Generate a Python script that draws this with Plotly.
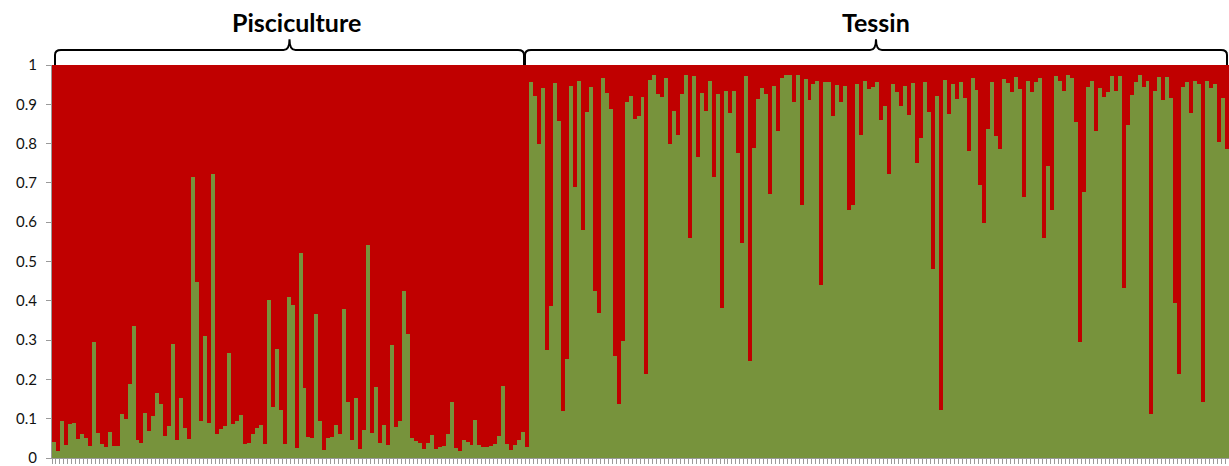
import plotly.graph_objects as go

# Group names
groups = ["Pisciculture", "Tessin"]

# Green (cluster 2) membership per individual, Pisciculture (120 individuals)
green_pisciculture = [
    0.040, 0.019, 0.093, 0.034, 0.086, 0.088, 0.048, 0.062, 0.050, 0.031,
    0.295, 0.063, 0.035, 0.027, 0.066, 0.031, 0.031, 0.111, 0.099, 0.188,
    0.336, 0.046, 0.038, 0.114, 0.069, 0.108, 0.165, 0.138, 0.057, 0.081,
    0.289, 0.046, 0.152, 0.076, 0.048, 0.716, 0.449, 0.095, 0.310, 0.090,
    0.722, 0.062, 0.073, 0.081, 0.267, 0.086, 0.093, 0.109, 0.036, 0.038,
    0.061, 0.076, 0.084, 0.035, 0.403, 0.131, 0.278, 0.122, 0.035, 0.409,
    0.390, 0.025, 0.521, 0.179, 0.054, 0.051, 0.366, 0.095, 0.021, 0.050,
    0.054, 0.083, 0.062, 0.380, 0.143, 0.046, 0.152, 0.024, 0.072, 0.543,
    0.063, 0.181, 0.038, 0.083, 0.034, 0.287, 0.078, 0.093, 0.424, 0.315,
    0.052, 0.042, 0.037, 0.024, 0.038, 0.059, 0.024, 0.027, 0.030, 0.062,
    0.143, 0.025, 0.019, 0.046, 0.040, 0.034, 0.097, 0.034, 0.028, 0.028,
    0.031, 0.036, 0.055, 0.183, 0.036, 0.021, 0.032, 0.045, 0.066, 0.027,
]

# Green membership per individual, Tessin (176 individuals)
green_tessin = [
    0.956, 0.922, 0.800, 0.941, 0.274, 0.386, 0.954, 0.858, 0.120, 0.251,
    0.947, 0.690, 0.959, 0.581, 0.880, 0.943, 0.424, 0.370, 0.966, 0.928,
    0.888, 0.260, 0.138, 0.297, 0.905, 0.922, 0.863, 0.869, 0.918, 0.215,
    0.962, 0.975, 0.927, 0.918, 0.968, 0.799, 0.882, 0.821, 0.926, 0.975,
    0.559, 0.973, 0.766, 0.930, 0.884, 0.960, 0.715, 0.926, 0.382, 0.934,
    0.879, 0.934, 0.775, 0.546, 0.973, 0.246, 0.789, 0.914, 0.942, 0.926,
    0.671, 0.947, 0.831, 0.968, 0.975, 0.975, 0.907, 0.975, 0.645, 0.964,
    0.910, 0.952, 0.960, 0.439, 0.958, 0.958, 0.869, 0.949, 0.907, 0.947,
    0.630, 0.644, 0.952, 0.823, 0.959, 0.938, 0.945, 0.956, 0.861, 0.895,
    0.722, 0.952, 0.931, 0.895, 0.947, 0.873, 0.954, 0.751, 0.813, 0.956,
    0.880, 0.481, 0.920, 0.122, 0.962, 0.876, 0.952, 0.914, 0.956, 0.916,
    0.781, 0.966, 0.937, 0.695, 0.597, 0.837, 0.956, 0.819, 0.786, 0.965,
    0.954, 0.932, 0.969, 0.939, 0.665, 0.959, 0.931, 0.956, 0.966, 0.561,
    0.744, 0.630, 0.973, 0.959, 0.935, 0.975, 0.966, 0.854, 0.294, 0.678,
    0.943, 0.960, 0.833, 0.941, 0.918, 0.931, 0.973, 0.935, 0.973, 0.432,
    0.848, 0.924, 0.956, 0.975, 0.945, 0.960, 0.112, 0.935, 0.970, 0.910,
    0.970, 0.916, 0.394, 0.215, 0.943, 0.956, 0.878, 0.960, 0.952, 0.143,
    0.960, 0.941, 0.952, 0.803, 0.917, 0.786,
]

ytick_vals = [0, 0.1, 0.2, 0.3, 0.4, 0.5, 0.6, 0.7, 0.8, 0.9, 1]
ytick_text = ["0", "0.1", "0.2", "0.3", "0.4", "0.5", "0.6", "0.7", "0.8", "0.9", "1"]

GREEN = "#77933C"
RED = "#C00000"

green = green_pisciculture + green_tessin
red = [1 - g for g in green]
n = len(green)
x = list(range(n))

fig = go.Figure()
fig.add_trace(go.Bar(x=x, y=green, marker=dict(color=GREEN, line=dict(width=0)),
                     hoverinfo="skip", showlegend=False))
fig.add_trace(go.Bar(x=x, y=red, marker=dict(color=RED, line=dict(width=0)),
                     hoverinfo="skip", showlegend=False))

W, H = 1229, 466
ML, MR, MT, MB = 52, 0, 65, 6
plot_w = W - ML - MR
plot_h = H - MT - MB


def px_x(p):  # page pixel -> paper x
    return (p - ML) / plot_w


def px_y(p):  # page pixel -> paper y
    return 1 + (MT - p) / plot_h


def brace(x0, x1):
    r = 6 / plot_w
    yb = px_y(65)
    yv = px_y(55)
    ym = px_y(50)
    yt = px_y(39)
    xm = (x0 + x1) / 2
    return (f"M {x0},{yb} L {x0},{yv} Q {x0},{ym} {x0 + r},{ym} "
            f"L {xm - r},{ym} Q {xm},{ym} {xm},{yt} "
            f"Q {xm},{ym} {xm + r},{ym} L {x1 - r},{ym} "
            f"Q {x1},{ym} {x1},{yv} L {x1},{yb}")


b1 = (px_x(55), px_x(524))
b2 = (px_x(525), px_x(1227))
for (a, b) in (b1, b2):
    fig.add_shape(type="path", path=brace(a, b), xref="paper", yref="paper",
                  line=dict(color="black", width=2))

label_x = [px_x(296), (b2[0] + b2[1]) / 2]
for name, lx in zip(groups, label_x):
    fig.add_annotation(text=name, x=lx, y=px_y(22), xref="paper", yref="paper",
                       showarrow=False, xanchor="center", yanchor="middle",
                       font=dict(family="Lato", size=25, color="black", weight="bold"))

fig.update_layout(
    width=W, height=H,
    margin=dict(l=ML, r=MR, t=MT, b=MB, pad=0),
    barmode="stack", bargap=0,
    plot_bgcolor="white", paper_bgcolor="white",
    font=dict(family="Lato", size=15, color="#111111"),
    xaxis=dict(range=[-0.5, n - 0.5], tickmode="linear", tick0=-0.5, dtick=1,
               ticks="outside", ticklen=5, tickcolor="#9a9a9a", tickwidth=1,
               showticklabels=False, showline=True, linecolor="#9a9a9a",
               showgrid=False, zeroline=False, fixedrange=True),
    yaxis=dict(range=[0, 1], tickmode="array", tickvals=ytick_vals, ticktext=ytick_text,
               ticks="outside", ticklen=5, tickcolor="#9a9a9a", tickwidth=1,
               showline=True, linecolor="#9a9a9a", showgrid=False, zeroline=False,
               ticklabelstandoff=6, ticklabeloverflow="allow", fixedrange=True),
)

fig.write_html(
    "out.html",
    config={"displayModeBar": False, "staticPlot": True},
    post_script="document.body.style.margin='0px';document.body.style.overflow='hidden';",
)
